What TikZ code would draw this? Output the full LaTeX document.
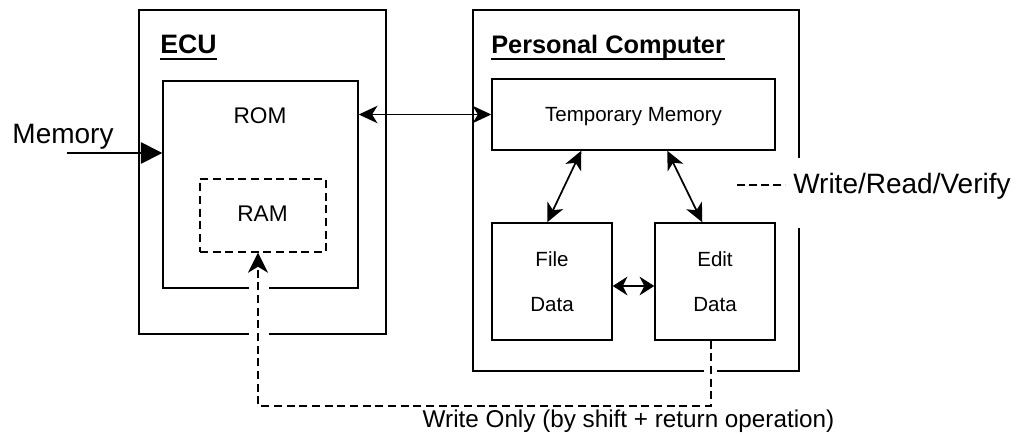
\documentclass[tikz,border=0pt]{standalone}
\usepackage{fontspec}
\setmainfont{Liberation Sans}
\usetikzlibrary{arrows.meta,fit,calc}
\begin{document}
\begin{tikzpicture}[x=0.75pt,y=-0.75pt,
  box/.style={draw, line width=1.1pt, inner sep=0pt},
  dbox/.style={box, dash pattern=on 6pt off 3.5pt},
  txt/.style={inner sep=0pt, anchor=base},
  big/.style={font=\fontsize{21}{24}\selectfont},
  mid/.style={font=\fontsize{17}{20}\selectfont},
  small/.style={font=\fontsize{15.4}{18}\selectfont},
  title/.style={inner sep=0pt, anchor=base west, font=\bfseries\fontsize{20}{24}\selectfont},
  uline/.style={line width=1.5pt},
  conn/.style={line width=1.3pt, {Stealth[length=14pt,width=13pt,inset=4pt]}-{Stealth[length=14pt,width=13pt,inset=4pt]}},
  shortconn/.style={line width=1.3pt, {Stealth[length=11pt,width=14pt,inset=3.5pt]}-{Stealth[length=11pt,width=14pt,inset=3.5pt]}},
  blockarrow/.style={line width=1.3pt, -{Triangle[length=16pt,width=16pt]}},
  dline/.style={line width=1.2pt, dash pattern=on 6pt off 3.5pt},
  gap/.style={fill=white, draw=none}
]
\useasboundingbox (0,0) rectangle (1023,435);

% boxes
\node[box, fit={(139,10) (386,334)}] (ecu) {};
\node[box, fit={(163,81) (358,288)}] (rom) {};
\node[dbox, fit={(200,179) (326,252)}] (ram) {};
\node[box, fit={(473,10) (799,371)}] (pc) {};
\node[box, fit={(492,79) (775,150)}] (tm) {};
\node[box, fit={(492,223) (612,340)}] (file) {};
\node[box, fit={(655,223) (775,340)}] (edit) {};

% gaps in borders where lines/labels cross
\fill[gap] (249,329) rectangle (269,339);
\fill[gap] (249,283) rectangle (269,293);
\fill[gap] (704,366) rectangle (717,376);
\fill[gap] (794,158) rectangle (804,228);

% titles
\node[title] (ecut) at (160,54) {ECU};
\draw[uline] ($(ecut.base west)+(0,5)$) -- ($(ecut.base east)+(0,5)$);
\node[title, font=\bfseries\fontsize{19}{23}\selectfont] (pct) at (491,54) {Personal Computer};
\draw[uline] ($(pct.base west)+(0,5.5)$) -- ($(pct.base east)+(0,5.5)$);

% inner texts
\node[txt, mid] (romt) at (260,123) {ROM};
\node[txt, mid] (ramt) at (262.5,221) {RAM};
\node[txt, small] (tmt) at (633.5,121) {Temporary Memory};
\node[txt, small] (filet) at (552,266) {File};
\node[txt, small] (filed) at (552,311) {Data};
\node[txt, small] (editt) at (715,266) {Edit};
\node[txt, small] (editd) at (715,311) {Data};

% Memory input
\node[txt, big] (mem) at (63,143) {Memory};
\coordinate (memin) at (67,153);
\draw[blockarrow] (memin) -- (memin -| rom.west);

% connectors
\draw[conn] (tm.west -| rom.east) -- (tm.west);
\draw[conn] ($(tm.south west)+(90,0)$) -- ($(file.north west)+(56,0)$);
\draw[conn] ($(tm.south west)+(176,0)$) -- ($(edit.north west)+(48,0)$);
\draw[shortconn] ($(file.east)+(0,4.5)$) -- ($(edit.west)+(0,4.5)$);

% Write/Read/Verify label
\node[inner sep=0pt, anchor=base west, big] (wrv) at (793,193) {Write/Read/Verify};
\coordinate (wrvs) at (737,185);
\draw[line width=1.1pt, dash pattern=on 6pt off 3pt] (wrvs) -- (wrvs -| 785,0);

% Write only path
\draw[dline, -{Stealth[length=15pt,width=15pt,inset=4.5pt]}]
  ($(edit.south)+(-4,0)$) -- ++(0,65) -| ($(ram.south)+(-5,0)$);
\node[txt, font=\fontsize{18.2}{22}\selectfont] (wo) at (628.5,427) {Write Only (by shift + return operation)};
\end{tikzpicture}
\end{document}
